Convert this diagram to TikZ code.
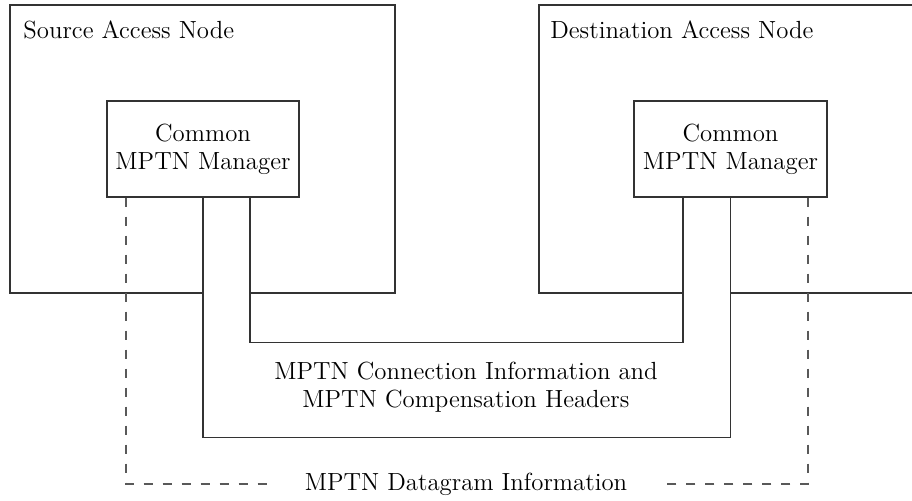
\documentclass[tikz,border=0pt]{standalone}
\usetikzlibrary{positioning}
\tikzset{
	mgr/.style={draw=black!80,line width=0.6pt,minimum width=96pt,minimum height=48pt,align=center,inner sep=0pt},
	wire/.style={draw=black!80,line width=0.6pt},
	dgwire/.style={draw=black!65,line width=0.6pt,dash pattern=on 4.5pt off 5pt},
	lbl/.style={font=\fontsize{12.4}{14}\selectfont}
}
\begin{document}
\begin{tikzpicture}[x=0.5pt,y=-0.5pt,every node/.style={lbl}]
	\useasboundingbox (0,0) rectangle (912,501);
	% access nodes (bottom edges open where the pipe leaves)
	\draw[wire] (203,293) -| (10,5) -| (395,293) -- (250,293);
	\draw[wire] (683,293) -- (539,293) |- (916,5);
	\draw[wire] (730,293) -- (916,293);
	\node[anchor=base west,inner sep=0pt] (srclbl) at (23,39) {Source Access Node};
	\node[anchor=base west,inner sep=0pt] (dstlbl) at (550,39) {Destination Access Node};
	% managers
	\node[mgr] (srcmgr) at (203,149) {Common\\MPTN Manager};
	\node[mgr,minimum width=96.5pt] (dstmgr) at (730.5,149) {Common\\MPTN Manager};
	% connection pipe
	\coordinate (inL) at ([xshift=23.5pt]srcmgr.south);
	\coordinate (inR) at ([xshift=-23.75pt]dstmgr.south);
	\draw[wire] (srcmgr.south) -- ++(0,240) -| (dstmgr.south);
	\draw[wire] (inL) -- ++(0,145) -| (inR);
	\node[align=center] (conninfo) at (466,387) {MPTN Connection Information and\\MPTN Compensation Headers};
	% datagram path
	\node[inner xsep=16pt] (dgram) at (466,484) {MPTN Datagram Information};
	\coordinate (dgL) at ([xshift=-38.5pt]srcmgr.south);
	\coordinate (dgR) at ([xshift=38.75pt]dstmgr.south);
	\draw[dgwire] (dgL) |- (dgram.west);
	\draw[dgwire] (dgR) |- (dgram.east);
\end{tikzpicture}
\end{document}
